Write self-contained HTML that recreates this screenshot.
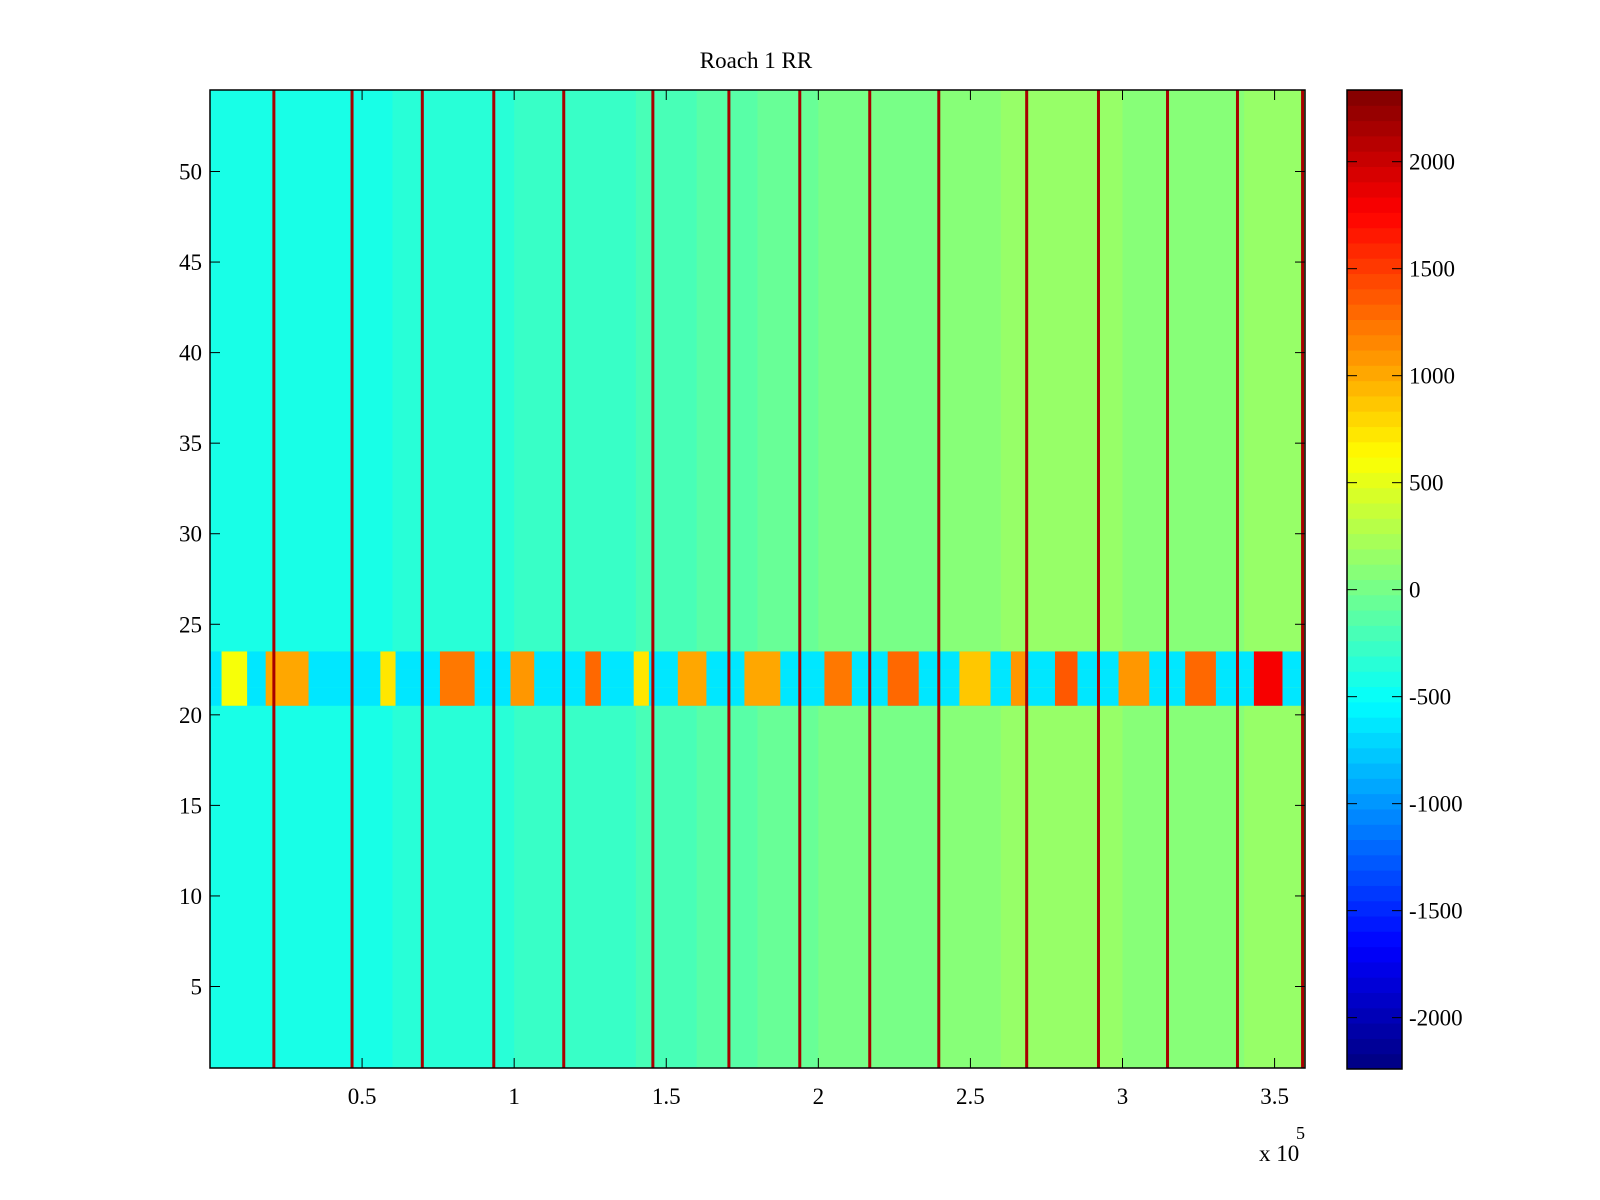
<!DOCTYPE html>
<html><head><meta charset="utf-8"><style>
html,body{margin:0;padding:0;background:#fff;}
svg{display:block;font-family:"Liberation Serif",serif;}
</style></head><body>
<svg id="fig" width="1600" height="1200" viewBox="0 0 1600 1200">
<text x="756" y="68" font-size="23" text-anchor="middle">Roach 1 RR</text>
<g id="cells"></g>
<g id="axes"></g>
<g id="cbar"></g>
</svg>
<script>
// ---- data ----
const rowCount = 54;
const xMaxUnits = 36; // x range in units of 1e4 (0..3.6e5)
// background mean level per 2e4-wide segment
const segmentMeans = [-400,-420,-390,-370,-340,-290,-240,-190,-140,-90,-20,40,110,140,120,80,100,130];
// spike (dark-red vertical line) positions, units of 1e4
const spikePositions = [2.1,4.67,6.98,9.33,11.63,14.56,17.06,19.39,21.69,23.96,26.85,29.21,31.48,33.78,35.92];
const spikeValue = 2150;
// band rows 21-23 with red clusters
const bandRows = [21,22,23];
const bandBase = -600;
const clusterStarts = [0.38,1.83,5.6,7.56,9.88,12.34,13.93,15.38,17.57,20.2,22.28,24.64,26.33,27.78,29.87,32.06,34.32];
const clusterEnds   = [1.22,3.24,6.1,8.7,10.66,12.85,14.43,16.32,18.75,21.1,23.3,25.66,26.84,28.52,30.88,33.07,35.26];
const clusterValues = [600,1000,700,1200,1100,1300,700,1000,1000,1200,1300,900,1100,1400,1100,1300,1800];
const cbarTicks = [-2000,-1500,-1000,-500,0,500,1000,1500,2000];
const xTicks = [0.5,1,1.5,2,2.5,3,3.5];
const yTicks = [5,10,15,20,25,30,35,40,45,50];
const cMin = -2240, cMax = 2335;

// ---- geometry ----
const L=210,R=1305,T=90,B=1068;
const xs = v => L + (v/xMaxUnits)*(R-L);
const ys = r => B - (r-0.5)/rowCount*(B-T);
const CL=1347,CR=1402,CT=90,CB=1069;
const cs = v => CB - (v-cMin)/(cMax-cMin)*(CB-CT);
function jet(t){
  t=Math.max(0,Math.min(1,t));
  const f=x=>Math.round(255*Math.max(0,Math.min(1,x)));
  return `rgb(${f(1.5-Math.abs(4*t-3))},${f(1.5-Math.abs(4*t-2))},${f(1.5-Math.abs(4*t-1))})`;
}
const col = v => { const n=Math.floor((v-cMin)/(cMax-cMin)*64); return jet((Math.min(63,Math.max(0,n))+0.5)/64); };
const NS="http://www.w3.org/2000/svg";
function mk(tag,attrs,parent){const e=document.createElementNS(NS,tag);for(const k in attrs)e.setAttribute(k,attrs[k]);parent.appendChild(e);return e;}

const cells=document.getElementById('cells');
segmentMeans.forEach((m,i)=>{
  const r=mk('rect',{x:xs(i*2),y:T,width:xs(i*2+2)-xs(i*2)+0.5,height:B-T,fill:col(m)},cells);
  
  
});
bandRows.forEach(rw=>{
  const r=mk('rect',{x:L,y:ys(rw+0.5),width:R-L,height:ys(rw-0.5)-ys(rw+0.5),fill:col(bandBase)},cells);
  
  
});
clusterStarts.forEach((s,i)=>{
  const r=mk('rect',{x:xs(s),y:ys(bandRows[bandRows.length-1]+0.5),width:xs(clusterEnds[i])-xs(s),height:ys(bandRows[0]-0.5)-ys(bandRows[bandRows.length-1]+0.5),fill:col(clusterValues[i])},cells);
  
  
});
spikePositions.forEach(p=>{
  const r=mk('rect',{x:xs(p)-1.5,y:T,width:3,height:B-T,fill:col(spikeValue)},cells);
  
  
});

const ax=document.getElementById('axes');
mk('rect',{x:L,y:T,width:R-L,height:B-T,fill:'none',stroke:'#000','stroke-width':1.5},ax);
xTicks.forEach(t=>{
  const x=xs(t*10);
  mk('line',{x1:x,y1:B,x2:x,y2:B-10,stroke:'#000'},ax);
  mk('line',{x1:x,y1:T,x2:x,y2:T+10,stroke:'#000'},ax);
  const tx=mk('text',{x:x,y:B+36,'font-size':23,'text-anchor':'middle'},ax);
  tx.textContent=t;
  
  
});
yTicks.forEach(t=>{
  const y=ys(t);
  mk('line',{x1:L,y1:y,x2:L+10,y2:y,stroke:'#000'},ax);
  mk('line',{x1:R,y1:y,x2:R-10,y2:y,stroke:'#000'},ax);
  const tx=mk('text',{x:202,y:y+8,'font-size':23,'text-anchor':'end'},ax);
  tx.textContent=t;
  
  
});
const ex=mk('text',{x:1259,y:1161,'font-size':23},ax);
ex.textContent='x 10';


const e5=mk('text',{x:1296,y:1139,'font-size':18},ax);
e5.textContent='5';



const cb=document.getElementById('cbar');
for(let i=0;i<64;i++){
  const v0=cMin+(cMax-cMin)*i/64, v1=cMin+(cMax-cMin)*(i+1)/64;
  mk('rect',{x:CL,y:cs(v1),width:CR-CL,height:cs(v0)-cs(v1)+0.5,fill:jet((i+0.5)/64)},cb);
}
mk('rect',{x:CL,y:CT,width:CR-CL,height:CB-CT,fill:'none',stroke:'#000','stroke-width':1.5},cb);
cbarTicks.forEach(t=>{
  const y=cs(t);
  mk('line',{x1:CL,y1:y,x2:CL+10,y2:y,stroke:'#000'},cb);
  mk('line',{x1:CR,y1:y,x2:CR-10,y2:y,stroke:'#000'},cb);
  const tx=mk('text',{x:1409,y:y+8,'font-size':23},cb);
  tx.textContent=t;
  
  
});
</script>
</body></html>
